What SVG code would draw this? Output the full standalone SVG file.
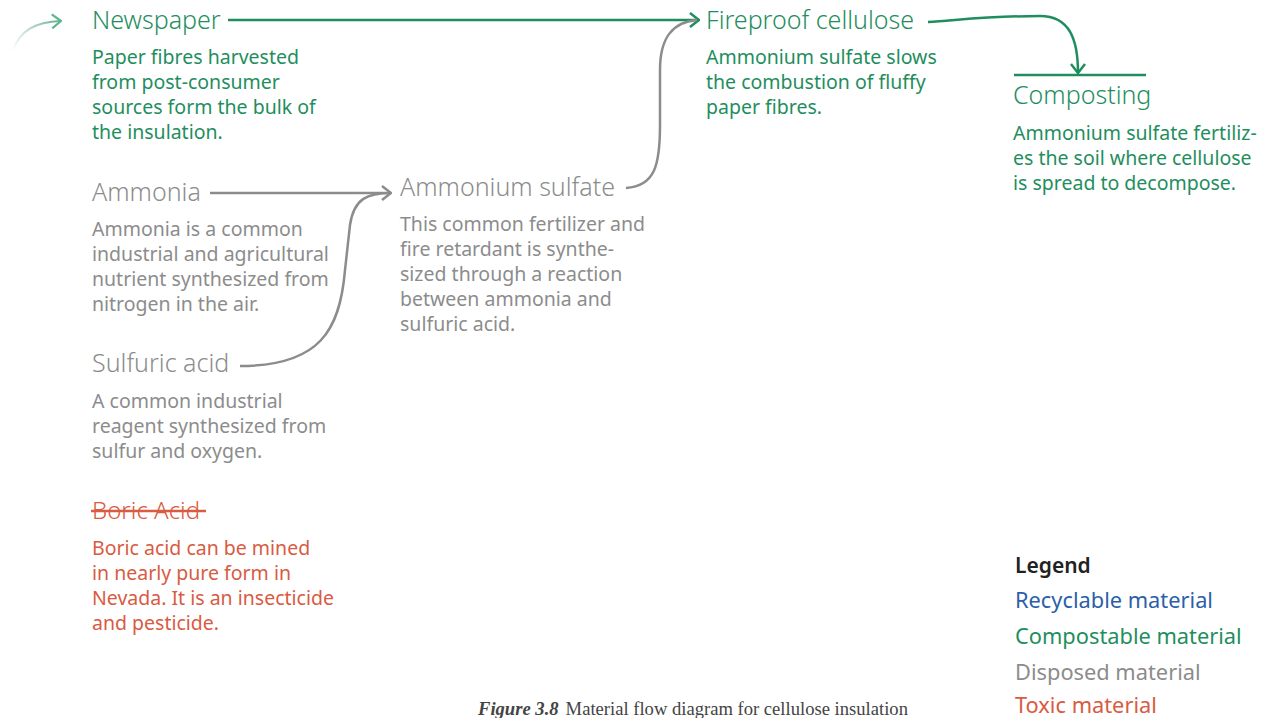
<svg xmlns="http://www.w3.org/2000/svg" width="1264" height="718" viewBox="0 0 1264 718">
<defs>
<style>
.t{font-family:"Noto Sans","Liberation Sans",sans-serif;}
.h{font-size:25px;font-weight:300;}
.b{font-size:19.5px;}
.g{fill:#1f8e5e;}
.gr{fill:#8c8c8c;}
.r{fill:#d85b42;}
.bl{fill:#2b5fa9;}
.k{fill:#222;}
.cg{fill:none;stroke:#1f8e5e;stroke-width:2.5;}
.cgr{fill:none;stroke:#8c8c8c;stroke-width:2.5;}
.lg{font-size:21.8px;}
</style>
<marker id="ag" viewBox="0 0 12 16" markerWidth="12" markerHeight="16" refX="11" refY="8" orient="auto" markerUnits="userSpaceOnUse"><path d="M2,1 L11,8 L2,15" fill="none" stroke="#1f8e5e" stroke-width="2.5"/></marker>
<marker id="agr" viewBox="0 0 12 16" markerWidth="12" markerHeight="16" refX="11" refY="8" orient="auto" markerUnits="userSpaceOnUse"><path d="M2,1 L11,8 L2,15" fill="none" stroke="#8c8c8c" stroke-width="2.5"/></marker>
<marker id="agf" viewBox="0 0 12 16" markerWidth="12" markerHeight="16" refX="11" refY="8" orient="auto" markerUnits="userSpaceOnUse"><path d="M2,1 L11,8 L2,15" fill="none" stroke="#5fb58f" stroke-width="2.2"/></marker>
<linearGradient id="fade" x1="12" y1="50" x2="62" y2="20" gradientUnits="userSpaceOnUse"><stop offset="0" stop-color="#1f8e5e" stop-opacity="0"/><stop offset="1" stop-color="#1f8e5e" stop-opacity="0.7"/></linearGradient>
</defs>
<rect width="1264" height="718" fill="#fff"/>
<g id="connectors">
<path d="M12,52 C20,30 35,22 61,21" fill="none" stroke="url(#fade)" stroke-width="2.2" marker-end="url(#agf)"/>
<path class="cg" d="M228,20 L699,20" marker-end="url(#ag)"/>
<path class="cg" d="M928,22 C960,20 990,16 1040,16 C1070,16 1078,40 1078,73" marker-end="url(#ag)"/>
<path class="cgr" d="M210,193 L391,193" marker-end="url(#agr)"/>
<path class="cgr" d="M240,366 C320,366 340,330 345,270 L350,225 C354,198 368,193 391,193"/>
<path class="cgr" d="M626,188 C655,186 660,165 660,125 L660,70 C660,38 672,22 697,20"/>
</g>
<g id="newspaper" class="t g">
<text class="h" x="92" y="29">Newspaper</text>
<text class="b" x="92" y="64">Paper fibres harvested</text>
<text class="b" x="92" y="89">from post-consumer</text>
<text class="b" x="92" y="114">sources form the bulk of</text>
<text class="b" x="92" y="139">the insulation.</text>
</g>
<g id="fireproof" class="t g">
<text class="h" x="706" y="29">Fireproof cellulose</text>
<text class="b" x="706" y="64">Ammonium sulfate slows</text>
<text class="b" x="706" y="89">the combustion of fluffy</text>
<text class="b" x="706" y="114">paper fibres.</text>
</g>
<g id="composting" class="t g">
<line x1="1014" y1="75" x2="1146" y2="75" stroke="#1f8e5e" stroke-width="2.5"/>
<text class="h" x="1013" y="104">Composting</text>
<text class="b" x="1013" y="140">Ammonium sulfate fertiliz-</text>
<text class="b" x="1013" y="165">es the soil where cellulose</text>
<text class="b" x="1013" y="190">is spread to decompose.</text>
</g>
<g id="ammonia" class="t gr">
<text class="h" x="92" y="201">Ammonia</text>
<text class="b" x="92" y="236">Ammonia is a common</text>
<text class="b" x="92" y="261">industrial and agricultural</text>
<text class="b" x="92" y="286">nutrient synthesized from</text>
<text class="b" x="92" y="311">nitrogen in the air.</text>
</g>
<g id="ammonium-sulfate" class="t gr">
<text class="h" x="400" y="196">Ammonium sulfate</text>
<text class="b" x="400" y="231">This common fertilizer and</text>
<text class="b" x="400" y="256">fire retardant is synthe-</text>
<text class="b" x="400" y="281">sized through a reaction</text>
<text class="b" x="400" y="306">between ammonia and</text>
<text class="b" x="400" y="331">sulfuric acid.</text>
</g>
<g id="sulfuric-acid" class="t gr">
<text class="h" x="92" y="372">Sulfuric acid</text>
<text class="b" x="92" y="408">A common industrial</text>
<text class="b" x="92" y="433">reagent synthesized from</text>
<text class="b" x="92" y="458">sulfur and oxygen.</text>
</g>
<g id="boric-acid" class="t r">
<text x="92" y="519" style="font-size:24px;font-weight:300">Boric Acid</text>
<line x1="91" y1="511" x2="206" y2="511" stroke="#d85b42" stroke-width="2.5"/>
<text class="b" x="92" y="555">Boric acid can be mined</text>
<text class="b" x="92" y="580">in nearly pure form in</text>
<text class="b" x="92" y="605">Nevada. It is an insecticide</text>
<text class="b" x="92" y="630">and pesticide.</text>
</g>
<g id="legend" class="t lg">
<text x="1015" y="573" class="k" font-weight="600" style="font-size:21px">Legend</text>
<text x="1015" y="608" class="bl">Recyclable material</text>
<text x="1015" y="644" class="g">Compostable material</text>
<text x="1015" y="680" class="gr">Disposed material</text>
<text x="1015" y="713" class="r">Toxic material</text>
</g>
<g id="caption" font-family="'Liberation Serif',serif" font-size="18.6" fill="#444">
<text x="478" y="715"><tspan font-weight="bold" font-style="italic">Figure 3.8</tspan><tspan dx="7">Material flow diagram for cellulose insulation</tspan></text>
</g>
</svg>
